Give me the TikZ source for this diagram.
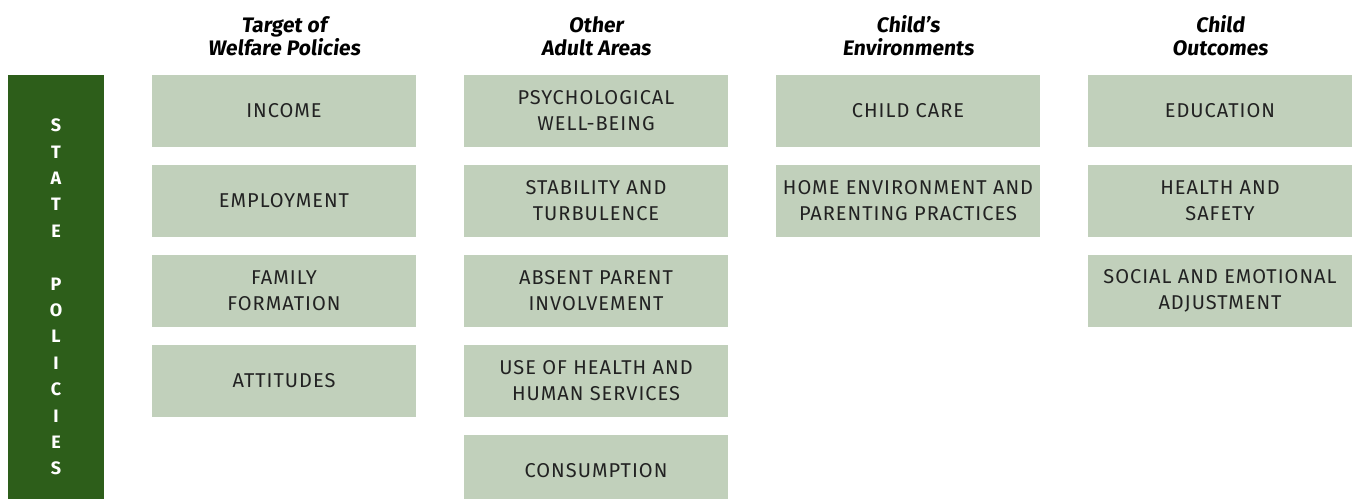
\documentclass[tikz,border=0pt]{standalone}
\usepackage{fontspec}
\setmainfont{Fira Sans}
\newfontfamily\headfont[FakeSlant=0.12]{Fira Sans}
\newfontfamily\boxfont[LetterSpace=5]{Fira Sans}
\usepackage{tikz}

\definecolor{stategreen}{RGB}{45,94,26}
\definecolor{boxgreen}{RGB}{193,208,187}
\definecolor{boxtext}{RGB}{34,34,34}

\begin{document}
\begin{tikzpicture}[x=0.5pt, y=-0.5pt]
	\tikzstyle{area} = [rectangle, fill=boxgreen, text=boxtext, inner sep=0pt,
		minimum width=132pt, minimum height=36pt, align=center,
		font=\boxfont\fontsize{10}{13}\selectfont]
	\tikzstyle{head} = [align=center, inner sep=0pt,
		font=\headfont\bfseries\fontsize{10.5}{11.5}\selectfont]
	\clip (0,0) rectangle (1353,498);
	% policy bar on the left
	\node [rectangle, fill=stategreen, minimum width=48pt, minimum height=216pt,
		inner sep=0pt] (state) at (56,291) {};
	\node [text=white, align=center, inner sep=0pt,
		font=\bfseries\fontsize{9}{13.2}\selectfont] (statetxt) at (56,297)
		{S\\T\\A\\T\\E\\[13.2pt]P\\O\\L\\I\\C\\I\\E\\S};
	% column titles
	\node [head] (h1) at (284,36) {Target of\\Welfare Policies};
	\node [head] (h2) at (596,36) {Other\\Adult Areas};
	\node [head] (h3) at (908,36) {Child’s\\Environments};
	\node [head] (h4) at (1220,36) {Child\\Outcomes};
	% target of welfare policies
	\node [area] (income) at (284,111) {INCOME};
	\node [area] (employ) at (284,201) {EMPLOYMENT};
	\node [area] (family) at (284,291) {FAMILY\\FORMATION};
	\node [area] (attit) at (284,381) {ATTITUDES};
	% other adult areas
	\node [area] (psych) at (596,111) {PSYCHOLOGICAL\\WELL-BEING};
	\node [area] (stab) at (596,201) {STABILITY AND\\TURBULENCE};
	\node [area] (absent) at (596,291) {ABSENT PARENT\\INVOLVEMENT};
	\node [area] (use) at (596,381) {USE OF HEALTH AND\\HUMAN SERVICES};
	\node [area] (consum) at (596,471) {CONSUMPTION};
	% child's environments
	\node [area] (care) at (908,111) {CHILD CARE};
	\node [area] (home) at (908,201) {HOME ENVIRONMENT AND\\PARENTING PRACTICES};
	% child outcomes
	\node [area] (edu) at (1220,111) {EDUCATION};
	\node [area] (health) at (1220,201) {HEALTH AND\\SAFETY};
	\node [area] (social) at (1220,291) {SOCIAL AND EMOTIONAL\\ADJUSTMENT};
\end{tikzpicture}
\end{document}
